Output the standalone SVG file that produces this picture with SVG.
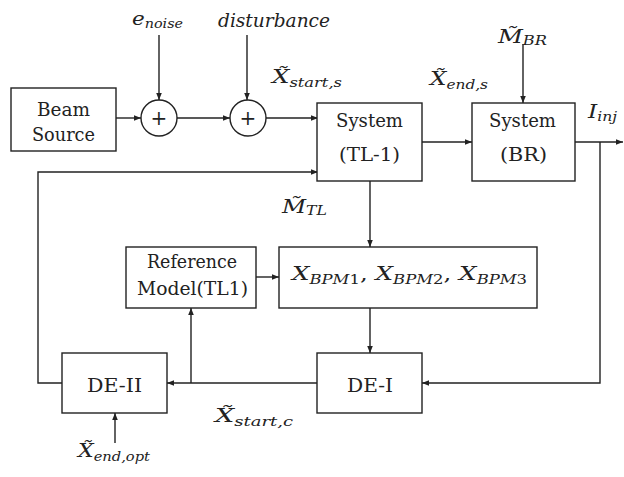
<svg xmlns="http://www.w3.org/2000/svg" width="624" height="477" viewBox="0 0 624 477">
  <style>
    .box { fill: #fff; stroke: #222; stroke-width: 1.4; }
    .wire { fill: none; stroke: #222; stroke-width: 1.4; }
    .lbl { font-family: "DejaVu Serif", serif; font-size: 19px; fill: #222; }
    .plus { font-family: "DejaVu Serif", serif; font-size: 20px; fill: #222; text-anchor: middle; }
    .math { font-family: "DejaVu Serif", serif; font-style: italic; fill: #222; }
    .big { font-size: 18px; }
    .sub { font-size: 12px; }
  </style>
  <defs>
    <marker id="arr" viewBox="0 0 10 10" refX="10" refY="5" markerWidth="7" markerHeight="7" markerUnits="userSpaceOnUse" orient="auto">
      <path d="M0,1 L10,5 L0,9 z" fill="#222"/>
    </marker>
  </defs>

  <!-- signal flow -->
  <g id="connectors">
    <line class="wire" x1="116" y1="118" x2="141" y2="118" marker-end="url(#arr)"/>
    <line class="wire" x1="159" y1="35" x2="159" y2="100" marker-end="url(#arr)"/>
    <line class="wire" x1="177" y1="118" x2="230" y2="118" marker-end="url(#arr)"/>
    <line class="wire" x1="247" y1="35" x2="247" y2="100" marker-end="url(#arr)"/>
    <line class="wire" x1="266" y1="118" x2="318" y2="118" marker-end="url(#arr)"/>
    <line class="wire" x1="422" y1="142" x2="472" y2="142" marker-end="url(#arr)"/>
    <line class="wire" x1="523" y1="44" x2="523" y2="103" marker-end="url(#arr)"/>
    <line class="wire" x1="575" y1="142" x2="623" y2="142" marker-end="url(#arr)"/>
    <polyline class="wire" points="600,142 600,383 422,383" marker-end="url(#arr)"/>
    <line class="wire" x1="370" y1="181" x2="370" y2="247" marker-end="url(#arr)"/>
    <line class="wire" x1="256" y1="277" x2="279" y2="277" marker-end="url(#arr)"/>
    <line class="wire" x1="370" y1="308" x2="370" y2="353" marker-end="url(#arr)"/>
    <line class="wire" x1="317" y1="383" x2="167" y2="383" marker-end="url(#arr)"/>
    <line class="wire" x1="191" y1="383" x2="191" y2="308" marker-end="url(#arr)"/>
    <line class="wire" x1="115" y1="443" x2="115" y2="413" marker-end="url(#arr)"/>
    <polyline class="wire" points="62,383 38,383 38,172 318,172" marker-end="url(#arr)"/>
  </g>

  <!-- blocks -->
  <g id="beam-source">
    <rect class="box" x="11" y="88" width="105" height="63"/>
    <text class="lbl" x="37" y="116" textLength="53" lengthAdjust="spacingAndGlyphs">Beam</text>
    <text class="lbl" x="32" y="141" textLength="63" lengthAdjust="spacingAndGlyphs">Source</text>
  </g>
  <g id="sum-noise">
    <circle class="box" cx="159" cy="118" r="18"/>
    <text class="plus" x="159" y="125">+</text>
  </g>
  <g id="sum-disturbance">
    <circle class="box" cx="248" cy="118" r="18"/>
    <text class="plus" x="248" y="125">+</text>
  </g>
  <g id="system-tl1">
    <rect class="box" x="317" y="103" width="105" height="78"/>
    <text class="lbl" x="336" y="127" textLength="67" lengthAdjust="spacingAndGlyphs">System</text>
    <text class="lbl" x="339" y="161" textLength="61" lengthAdjust="spacingAndGlyphs">(TL-1)</text>
  </g>
  <g id="system-br">
    <rect class="box" x="472" y="103" width="103" height="78"/>
    <text class="lbl" x="489" y="127" textLength="67" lengthAdjust="spacingAndGlyphs">System</text>
    <text class="lbl" x="500" y="161" textLength="47" lengthAdjust="spacingAndGlyphs">(BR)</text>
  </g>
  <g id="reference-model">
    <rect class="box" x="126" y="247" width="130" height="61"/>
    <text class="lbl" x="147" y="268" textLength="90" lengthAdjust="spacingAndGlyphs">Reference</text>
    <text class="lbl" x="137" y="295" textLength="111" lengthAdjust="spacingAndGlyphs">Model(TL1)</text>
  </g>
  <g id="bpm">
    <rect class="box" x="279" y="247" width="258" height="61"/>
    <text class="math" x="292" y="280" textLength="235" lengthAdjust="spacingAndGlyphs"><tspan class="big">X</tspan><tspan class="sub" dy="4">BPM</tspan><tspan class="sub" font-style="normal">1</tspan><tspan class="big" dy="-4" font-style="normal">, </tspan><tspan class="big">X</tspan><tspan class="sub" dy="4">BPM</tspan><tspan class="sub" font-style="normal">2</tspan><tspan class="big" dy="-4" font-style="normal">, </tspan><tspan class="big">X</tspan><tspan class="sub" dy="4">BPM</tspan><tspan class="sub" font-style="normal">3</tspan></text>
  </g>
  <g id="de-1">
    <rect class="box" x="317" y="353" width="105" height="60"/>
    <text class="lbl" x="347" y="392" textLength="46" lengthAdjust="spacingAndGlyphs">DE-I</text>
  </g>
  <g id="de-2">
    <rect class="box" x="62" y="353" width="105" height="60"/>
    <text class="lbl" x="87" y="392" textLength="55" lengthAdjust="spacingAndGlyphs">DE-II</text>
  </g>

  <!-- signal names -->
  <g id="labels">
    <text class="math" x="132" y="25" textLength="51" lengthAdjust="spacingAndGlyphs"><tspan font-size="18">e</tspan><tspan class="sub" dy="3">noise</tspan></text>
    <text class="math" x="218" y="27" font-size="19" textLength="112" lengthAdjust="spacingAndGlyphs">disturbance</text>
    <text class="math" x="272" y="83" textLength="70" lengthAdjust="spacingAndGlyphs"><tspan class="big">X̃</tspan><tspan class="sub" dy="4">start,s</tspan></text>
    <text class="math" x="430" y="85" textLength="58" lengthAdjust="spacingAndGlyphs"><tspan class="big">X̃</tspan><tspan class="sub" dy="4">end,s</tspan></text>
    <text class="math" x="498" y="43" textLength="49" lengthAdjust="spacingAndGlyphs"><tspan class="big">M̃</tspan><tspan class="sub" dy="2">BR</tspan></text>
    <text class="math" x="588" y="118" textLength="29" lengthAdjust="spacingAndGlyphs"><tspan class="big">I</tspan><tspan class="sub" dy="3">inj</tspan></text>
    <text class="math" x="282" y="213" textLength="45" lengthAdjust="spacingAndGlyphs"><tspan class="big">M̃</tspan><tspan class="sub" dy="2">TL</tspan></text>
    <text class="math" x="215" y="422" textLength="78" lengthAdjust="spacingAndGlyphs"><tspan class="big">X̃</tspan><tspan class="sub" dy="4">start,c</tspan></text>
    <text class="math" x="78" y="457" textLength="72" lengthAdjust="spacingAndGlyphs"><tspan class="big">X̃</tspan><tspan class="sub" dy="4">end,opt</tspan></text>
  </g>
</svg>
